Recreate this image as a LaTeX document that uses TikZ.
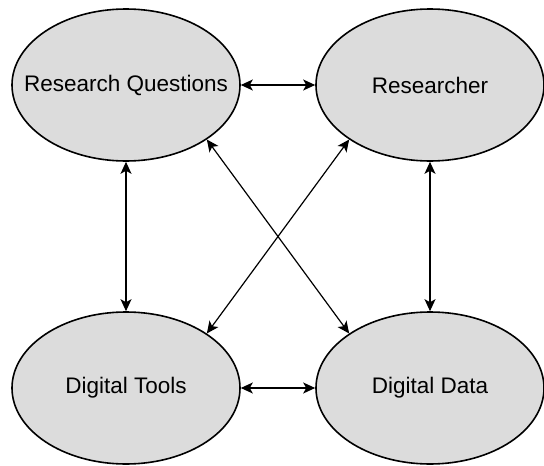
\documentclass[tikz,border=0pt]{standalone}
\usepackage{fontspec}
\setmainfont{Liberation Sans}
\usetikzlibrary{shapes.geometric,arrows.meta}
\definecolor{bubblegray}{HTML}{DCDCDC}
\begin{document}
\begin{tikzpicture}[x=1pt, y=-1pt]
      \tikzset{
	  bubble/.style={ellipse, draw=black, line width=1.6pt, fill=bubblegray, minimum width=228pt, minimum height=152pt, inner sep=0pt, font=\fontsize{22.5}{27}\selectfont},
	  link/.style={draw=black, line width=1.2pt, {Stealth[length=12pt,width=11pt,inset=3pt]}-{Stealth[length=12pt,width=11pt,inset=3pt]}}
      }
      \useasboundingbox (0,0) rectangle (544,466);

      \node[bubble] (questions) at (126,85) {\makebox[0pt]{Research Questions}};
      \node[bubble] (researcher) at (430,85) {\makebox[0pt]{Researcher}};
      \node[bubble] (tools) at (126,388) {\makebox[0pt]{Digital Tools}};
      \node[bubble] (data) at (430,388) {\makebox[0pt]{Digital Data}};

      \draw[link] (questions.east) -- (researcher.west);
      \draw[link] (tools.east) -- (data.west);
      \draw[link] (questions.south) -- (tools.north);
      \draw[link] (researcher.south) -- (data.north);
      % diagonals
      \draw[link] (questions.-34) -- (data.146);
      \draw[link] (researcher.-146) -- (tools.34);
    \end{tikzpicture}
\end{document}
